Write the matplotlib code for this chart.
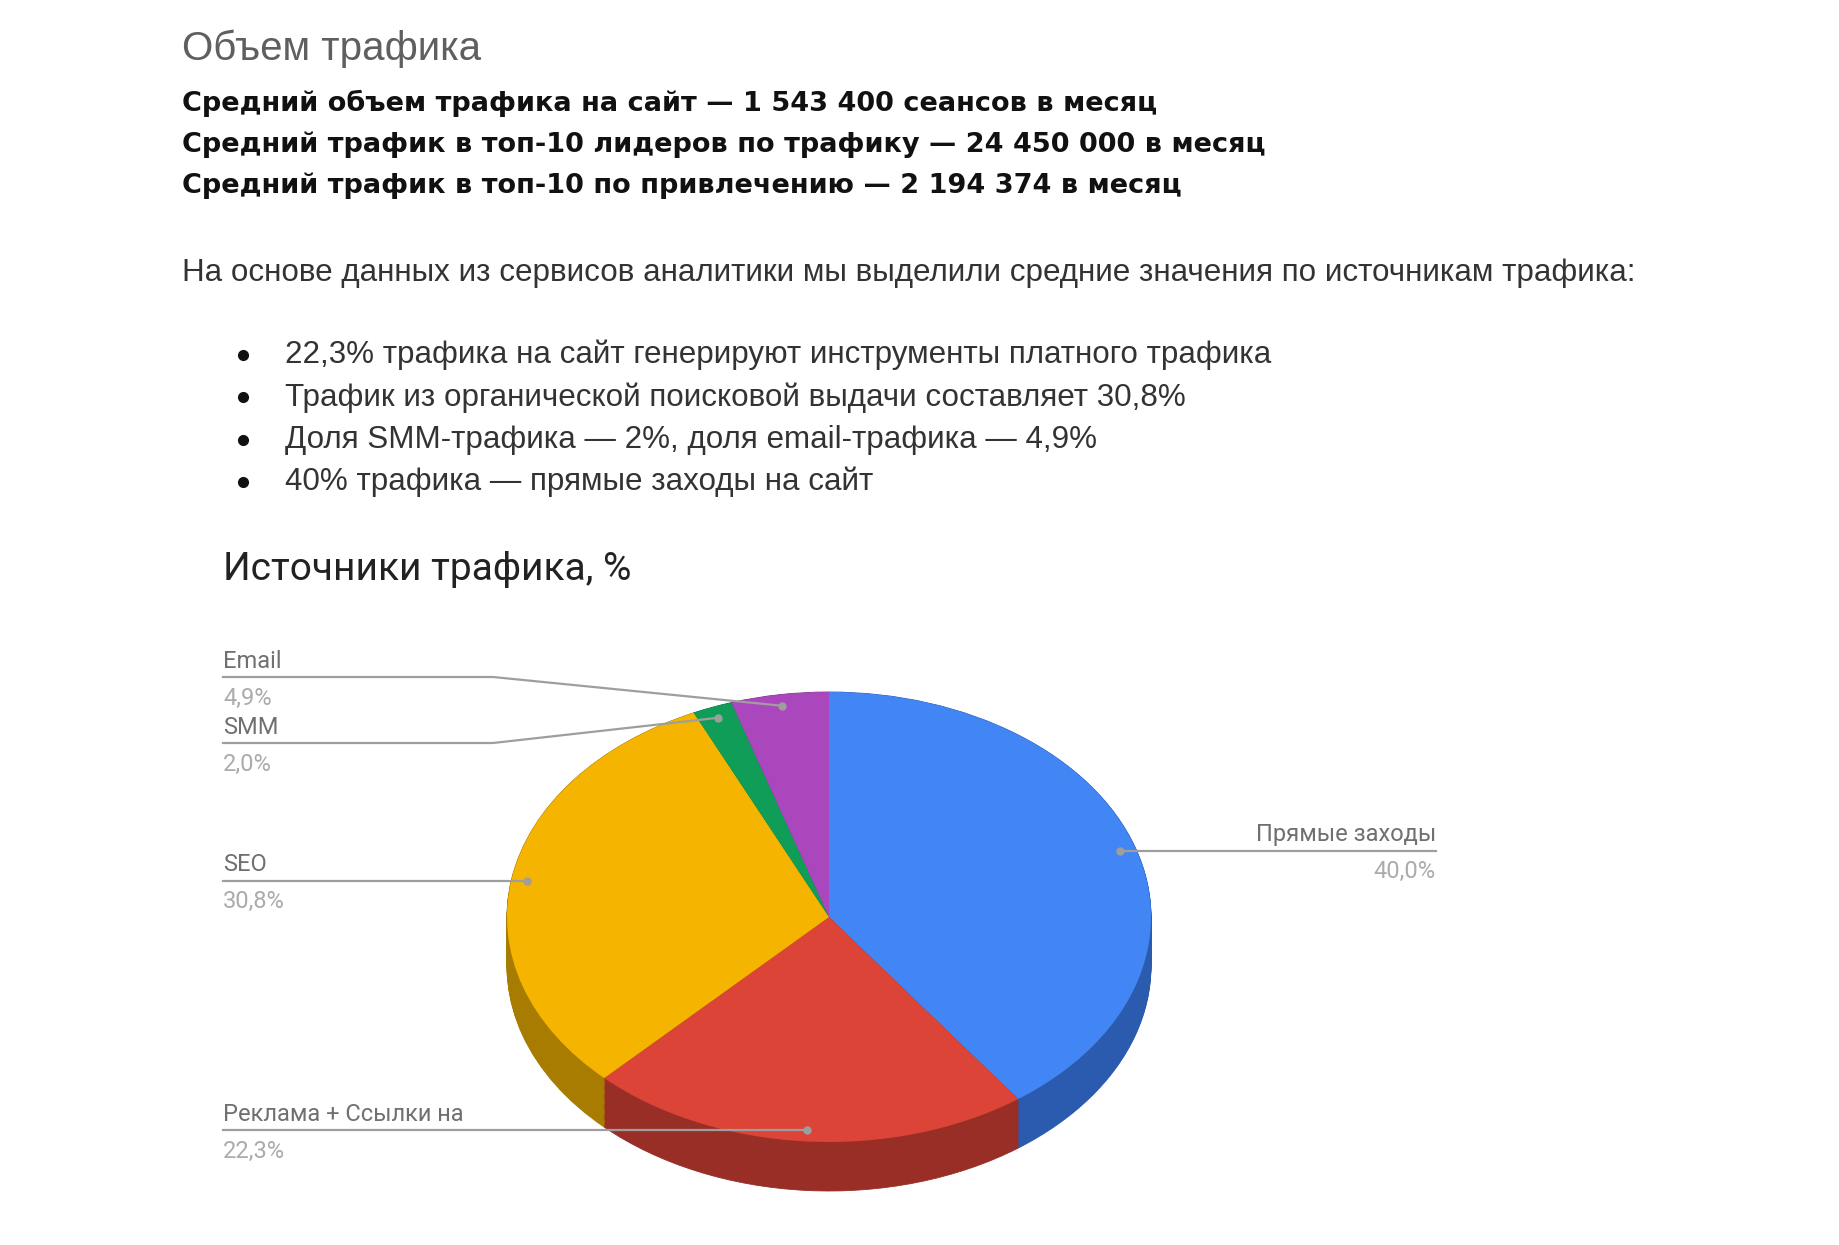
import matplotlib
matplotlib.use("Agg")
import matplotlib.pyplot as plt
import numpy as np

# data
labels = ["Прямые заходы", "Реклама + Ссылки на", "SEO", "SMM", "Email"]
values = [40.0, 22.3, 30.8, 2.0, 4.9]
top_colors = ["#4285F4", "#DB4437", "#F4B400", "#0F9D58", "#AB47BC"]
side_colors = ["#2B5BAE", "#992E27", "#A87C00", "#0A6E3D", "#773185"]

header = "Объем трафика"
bold_lines = [
    "Средний объем трафика на сайт — 1 543 400 сеансов в месяц",
    "Средний трафик в топ-10 лидеров по трафику — 24 450 000 в месяц",
    "Средний трафик в топ-10 по привлечению — 2 194 374 в месяц",
]
intro = "На основе данных из сервисов аналитики мы выделили средние значения по источникам трафика:"
bullets = [
    "22,3% трафика на сайт генерируют инструменты платного трафика",
    "Трафик из органической поисковой выдачи составляет 30,8%",
    "Доля SMM-трафика — 2%, доля email-трафика — 4,9%",
    "40% трафика — прямые заходы на сайт",
]
chart_title = "Источники трафика, %"

W, H = 1839, 1245
fig = plt.figure(figsize=(W / 100, H / 100), dpi=100)
fig.patch.set_facecolor("white")

# pie geometry (pixels)
cx, cy, rx, ry, depth = 829, 917, 322, 225, 49
d = depth / ry
pax = fig.add_axes([(cx - rx) / W, (H - (cy + ry + depth)) / H,
                    2 * rx / W, (2 * ry + depth) / H])

# side wall: stacked darker pies
for k in np.linspace(d, 0, 45):
    wedges, _ = pax.pie(values, colors=side_colors, startangle=90,
                        counterclock=False, center=(0, -k),
                        wedgeprops=dict(linewidth=0))
    for w in wedges:
        w.set_edgecolor(w.get_facecolor())
        w.set_linewidth(0.6)

wedges, _ = pax.pie(values, colors=top_colors, startangle=90,
                    counterclock=False, wedgeprops=dict(linewidth=0))
pax.set_aspect("auto")
pax.set_xlim(-1, 1)
pax.set_ylim(-1 - d, 1)
pax.axis("off")

# overlay in pixel coords
ov = fig.add_axes([0, 0, 1, 1])
ov.set_xlim(0, W)
ov.set_ylim(H, 0)
ov.axis("off")
ov.patch.set_alpha(0)

doc_font = ["Liberation Sans", "DejaVu Sans"]
bold_font = ["DejaVu Sans"]
chart_font = ["Roboto", "DejaVu Sans"]

ov.text(182, 49, header, fontsize=29, color="#5f5f5f", family=doc_font, va="center")
for i, s in enumerate(bold_lines):
    ov.text(182, 103 + 41.5 * i, s, fontsize=19.5, weight="bold", color="#111111",
            family=bold_font, va="center")
ov.text(182, 273, intro, fontsize=22.6, color="#333333", family=doc_font, va="center")
for i, s in enumerate(bullets):
    y = 355 + 42.3 * i
    ov.plot(243, y, "o", color="#111111", ms=7)
    ov.text(285, y, s, fontsize=22.6, color="#333333", family=doc_font, va="center")

ov.text(223, 570, chart_title, fontsize=28, color="#222222", family=chart_font, va="center")

# leader dots from pie geometry
fr = np.array(values) / sum(values)
mid = np.cumsum(fr) - fr / 2
ang = np.deg2rad(90 - 360 * mid)
pts = np.column_stack([0.95 * np.cos(ang), 0.95 * np.sin(ang)])
disp = pax.transData.transform(pts)
dots = ov.transData.inverted().transform(disp)

line_c = "#9e9e9e"
name_c = "#707070"
pct_c = "#ababab"
label_y = {"Email": 677, "SMM": 743}
elbow_x = 493
for lab, v, (dx, dy) in zip(labels, values, dots):
    pct = f"{v:.1f}%".replace(".", ",")
    if lab == "Прямые заходы":
        ly = dy
        ov.plot([dx, 1436], [ly, ly], color=line_c, lw=1.6)
        ov.text(1436, ly - 16, lab, fontsize=17, color=name_c, family=chart_font,
                ha="right", va="center")
        ov.text(1436, ly + 21, pct, fontsize=17, color=pct_c, family=chart_font,
                ha="right", va="center")
    else:
        ly = label_y.get(lab, dy)
        ov.plot([223, elbow_x, dx], [ly, ly, dy], color=line_c, lw=1.6)
        ov.text(223, ly - 16, lab, fontsize=17, color=name_c, family=chart_font,
                va="center")
        ov.text(223, ly + 21, pct, fontsize=17, color=pct_c, family=chart_font,
                va="center")
    ov.plot(dx, dy, "o", color=line_c, ms=5)

fig.savefig("out.png", dpi=100, facecolor="white")
